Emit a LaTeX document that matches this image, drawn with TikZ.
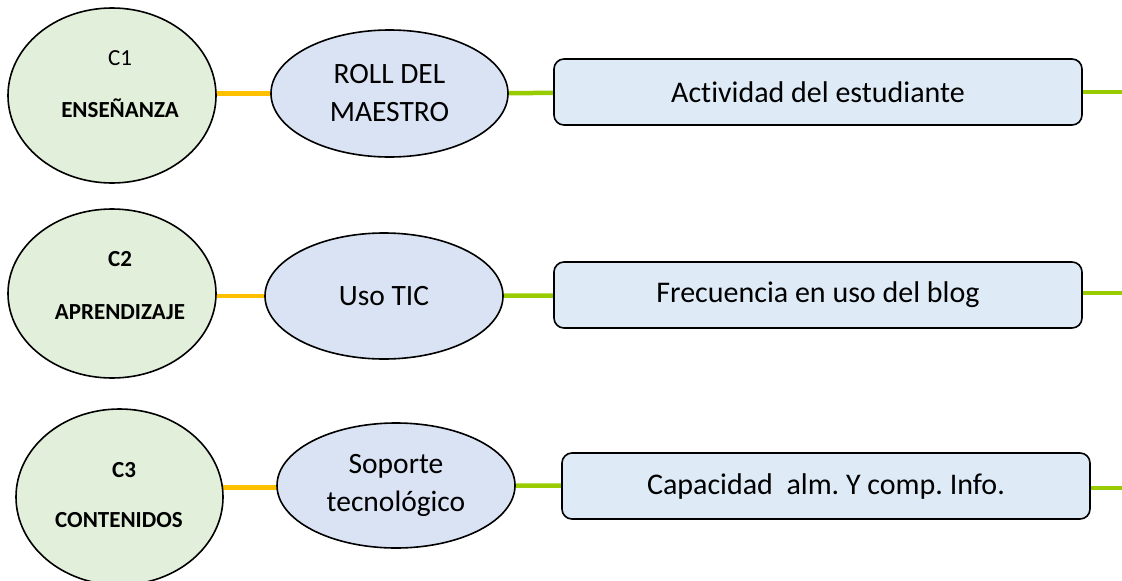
\documentclass[tikz,border=0pt]{standalone}
\usepackage{fontspec}
\setmainfont[Ligatures=NoCommon]{Carlito}
\usetikzlibrary{shapes.geometric,backgrounds}
\definecolor{cgreen}{HTML}{E2EFDA}
\definecolor{cblue}{HTML}{DAE3F3}
\definecolor{cbox}{HTML}{DEEBF7}
\definecolor{corange}{HTML}{FFC000}
\definecolor{cline}{HTML}{99CC00}
\frenchspacing
\begin{document}
\begin{tikzpicture}[x=1pt,y=-1pt,
  circ/.style={ellipse, draw=black, line width=1.6pt, fill=cgreen, inner sep=0pt},
  ell/.style={ellipse, draw=black, line width=1.6pt, fill=cblue, inner sep=0pt,
    font=\fontsize{29.5}{38}\selectfont, align=center},
  boxnode/.style={draw=black, rounded corners=10pt, line width=1.6pt, fill=cbox,
    minimum width=528pt, minimum height=66pt, inner sep=0pt,
    font=\fontsize{30}{36}\selectfont},
  ctext/.style={font=\fontsize{23}{28}\selectfont, inner sep=0pt},
  btext/.style={font=\fontsize{23}{28}\selectfont\bfseries, inner sep=0pt},
  orangeline/.style={line width=4.5pt, draw=corange},
  greenline/.style={line width=4.5pt, draw=cline}]
\useasboundingbox (0,0) rectangle (1122,581);

% row 1
\node[circ, minimum width=208pt, minimum height=175pt] (c1) at (112,95.5) {};
\node[ctext] (c1a) at (120,58) {C1};
\node[btext] (c1b) at (120,108) {ENSEÑANZA};
\node[ell, minimum width=237pt, minimum height=127pt] (e1) at (389.5,93.5) {ROLL DEL\\MAESTRO};
\node[boxnode] (r1) at (818,92) {Actividad del estudiante};
\coordinate (o1) at (1122,92);

% row 2
\node[circ, minimum width=208pt, minimum height=169pt] (c2) at (112,293.5) {};
\node[btext] (c2a) at (120,259) {C2};
\node[btext] (c2b) at (120,312) {APRENDIZAJE};
\node[ell, minimum width=238pt, minimum height=126pt] (e2) at (384,296) {Uso TIC};
\node[boxnode] (r2) at (818,295) {Frecuencia en uso del blog};
\coordinate (o2) at (1122,293);

% row 3
\node[circ, minimum width=207pt, minimum height=176pt] (c3) at (119.5,497) {};
\node[btext] (c3a) at (124,470) {C3};
\node[btext] (c3b) at (119,520) {CONTENIDOS};
\node[ell, minimum width=238pt, minimum height=125pt] (e3) at (396,485.5) {Soporte\\tecnológico};
\node[boxnode] (r3) at (826,486) {Capacidad~ alm. Y comp. Info.};
\coordinate (o3) at (1122,488);

\begin{scope}[on background layer]
  \draw[orangeline] (c1.center |- e1.center) -- (e1.center);
  \draw[greenline] (e1.center) -- (r1.center);
  \draw[greenline] (r1.center) -- (o1);
  \draw[orangeline] (c2.center |- e2.center) -- (e2.center);
  \draw[greenline] (e2.center) -- (r2.center);
  \draw[greenline] (r2.center |- o2) -- (o2);
  \draw[orangeline] (c3.center |- 0,487.5) -- (e3.center |- 0,487.5);
  \draw[greenline] (e3.center) -- (r3.center);
  \draw[greenline] (r3.center |- o3) -- (o3);
\end{scope}
\end{tikzpicture}
\end{document}
